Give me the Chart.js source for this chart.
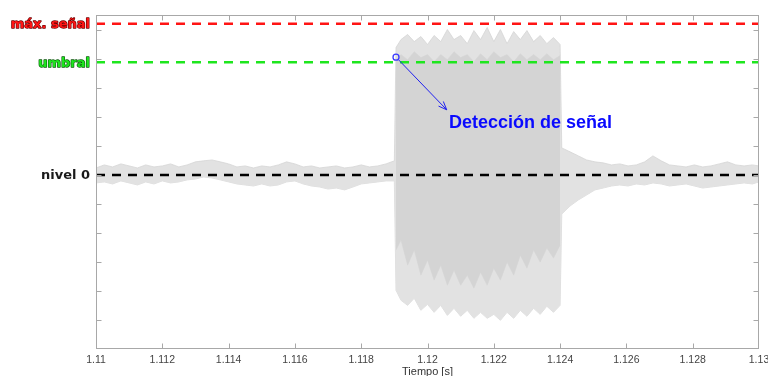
<!DOCTYPE html>
<html><head><meta charset="utf-8">
<script src="https://cdn.jsdelivr.net/npm/chart.js@4.4.1/dist/chart.umd.min.js"></script>
<style>html,body{margin:0;padding:0;background:#fff}#wrap{width:768px;height:376px;position:relative}</style>
</head><body><div id="wrap"><canvas id="c"></canvas></div>
<script>
// ---- axis ticks ----
const xTickValues = [1.110,1.112,1.114,1.116,1.118,1.120,1.122,1.124,1.126,1.128,1.130];
const xTickLabels = ['1.11','1.112','1.114','1.116','1.118','1.12','1.122','1.124','1.126','1.128','1.13'];
const yTickValues = [-1.0,-0.8,-0.6,-0.4,-0.2,0,0.2,0.4,0.6,0.8,1.0];

// ---- signal envelope (time [s], amplitude) ----
const tSignal = [
 1.11000,1.11025,1.11050,1.11075,1.11100,1.11125,1.11150,1.11175,1.11200,1.11225,1.11250,1.11275,
 1.11300,1.11325,1.11350,1.11375,1.11400,1.11425,1.11450,1.11475,1.11500,1.11525,1.11550,1.11575,
 1.11600,1.11625,1.11650,1.11675,1.11700,1.11725,1.11750,1.11775,1.11800,1.11825,1.11850,1.11875,1.11900,
 1.11905,1.11920,1.11940,1.11960,1.11980,1.12000,1.12020,1.12040,1.12060,1.12080,1.12100,1.12120,1.12140,
 1.12160,1.12180,1.12200,1.12220,1.12240,1.12260,1.12280,1.12300,1.12320,1.12340,1.12360,1.12380,1.12400,
 1.12405,1.12430,1.12455,1.12480,1.12505,1.12530,1.12555,1.12580,1.12605,1.12630,1.12655,1.12680,1.12705,
 1.12730,1.12755,1.12780,1.12805,1.12830,1.12855,1.12880,1.12905,1.12930,1.12955,1.12980,1.13000];
const sigUpper = [
 0.048,0.069,0.055,0.076,0.062,0.048,0.069,0.055,0.062,0.076,0.055,0.069,
 0.090,0.097,0.103,0.090,0.076,0.055,0.062,0.048,0.062,0.055,0.069,0.090,
 0.076,0.055,0.062,0.048,0.055,0.062,0.048,0.055,0.069,0.055,0.062,0.076,0.097,
 0.876,0.931,0.966,0.917,0.952,0.897,0.959,0.917,1.000,0.931,0.959,0.903,0.993,
 0.931,1.014,0.917,1.000,0.903,0.986,0.931,0.993,0.917,0.959,0.903,0.945,0.897,
 0.186,0.159,0.131,0.103,0.090,0.083,0.069,0.076,0.062,0.069,0.090,0.131,0.097,
 0.069,0.062,0.055,0.069,0.055,0.062,0.076,0.090,0.069,0.062,0.069,0.062];
const sigLower = [
 -0.055,-0.048,-0.062,-0.041,-0.055,-0.069,-0.048,-0.062,-0.041,-0.055,-0.048,-0.034,
 -0.028,-0.014,-0.021,-0.034,-0.048,-0.062,-0.069,-0.076,-0.062,-0.076,-0.069,-0.048,
 -0.041,-0.062,-0.076,-0.083,-0.097,-0.090,-0.103,-0.083,-0.062,-0.055,-0.048,-0.041,-0.041,
 -0.793,-0.862,-0.897,-0.848,-0.931,-0.890,-0.945,-0.897,-0.966,-0.917,-0.972,-0.931,-0.986,
 -0.945,-0.986,-0.959,-1.000,-0.945,-0.986,-0.931,-0.972,-0.917,-0.959,-0.903,-0.945,-0.897,
 -0.269,-0.214,-0.172,-0.138,-0.103,-0.090,-0.076,-0.069,-0.076,-0.062,-0.069,-0.055,-0.062,
 -0.076,-0.069,-0.062,-0.076,-0.090,-0.083,-0.076,-0.069,-0.062,-0.055,-0.062,-0.048];

// ---- denser core of the burst ----
const tBurst = [1.11905,1.11920,1.11940,1.11960,1.11980,1.12000,1.12020,1.12040,1.12060,1.12080,1.12100,1.12120,1.12140,
 1.12160,1.12180,1.12200,1.12220,1.12240,1.12260,1.12280,1.12300,1.12320,1.12340,1.12360,1.12380,1.12400];
const coreUpper = [0.793,0.828,0.793,0.848,0.807,0.828,0.779,0.828,0.793,0.848,0.807,0.828,0.779,
 0.834,0.793,0.848,0.807,0.828,0.779,0.834,0.793,0.828,0.793,0.834,0.793,0.821];
const coreLower = [-0.517,-0.448,-0.621,-0.517,-0.690,-0.586,-0.724,-0.621,-0.759,-0.655,-0.759,-0.690,-0.779,
 -0.669,-0.759,-0.641,-0.724,-0.600,-0.690,-0.552,-0.641,-0.517,-0.600,-0.503,-0.572,-0.483];

// ---- reference levels ----
const levelNames  = ['máx. señal','umbral','nivel 0'];
const levelValues = [1.04, 0.775, 0];
const levelColors = ['#ff1414','#1ee61e','#000000'];
const levelStroke = ['#6a0000','#0b5a0b',null];

// ---- detection annotation ----
const detectT = 1.11905, detectV = 0.81;
const arrowEndT = 1.12058, arrowEndV = 0.448;
const noteT = 1.12065, noteV = 0.355;
const noteText = 'Detección de señal';
const xTitle = 'Tiempo [s]';

const pts = (ts, vs) => ts.map((t,i)=>({x:t,y:vs[i]}));

const datasets = [
  {data:pts(tSignal,sigUpper), fill:'+1', backgroundColor:'#e2e2e2', borderColor:'#d6d6d6', borderWidth:0.8, pointRadius:0, order:10, tension:0},
  {data:pts(tSignal,sigLower), fill:false, borderColor:'#d6d6d6', borderWidth:0.8, pointRadius:0, order:10, tension:0},
  {data:pts(tBurst,coreUpper), fill:'+1', backgroundColor:'#d4d4d4', borderColor:'#d4d4d4', borderWidth:0.5, pointRadius:0, order:9},
  {data:pts(tBurst,coreLower), fill:false, borderColor:'#d4d4d4', borderWidth:0.5, pointRadius:0, order:9}
];
levelValues.forEach((v,i)=>{
  datasets.push({data:[{x:1.11,y:v},{x:1.13,y:v}], borderColor:levelColors[i], borderWidth:2.6, borderDash:[9,7], pointRadius:0, fill:false, order:2});
});
datasets.push({data:[{x:detectT,y:detectV}], showLine:false, pointRadius:3, pointBorderWidth:1.3,
  pointBorderColor:'#3a3aff', pointBackgroundColor:'rgba(0,0,0,0)', order:1});

const decor = {
  id:'decor',
  afterDraw(chart){
    const {ctx, chartArea:a, scales:{x,y}} = chart;
    ctx.save();
    // frame
    ctx.strokeStyle = '#a8a8a8'; ctx.lineWidth = 1;
    const L=Math.round(a.left)+0.5, R=Math.round(a.right)-0.5, T=Math.round(a.top)+0.5, B=Math.round(a.bottom)-0.5;
    ctx.strokeRect(L,T,R-L,B-T);
    ctx.beginPath();
    xTickValues.forEach(v=>{
      const px = Math.round(x.getPixelForValue(v))+0.5;
      if (px<=L+1 || px>=R-1) return;
      ctx.moveTo(px,B); ctx.lineTo(px,B-5);
      ctx.moveTo(px,T); ctx.lineTo(px,T+5);
    });
    yTickValues.forEach(v=>{
      const py = Math.round(y.getPixelForValue(v))+0.5;
      if (py<=T+1 || py>=B-1) return;
      ctx.moveTo(L,py); ctx.lineTo(L+5,py);
      ctx.moveTo(R,py); ctx.lineTo(R-5,py);
    });
    ctx.stroke();
    // level labels
    ctx.font = 'bold 13px "DejaVu Sans"';
    ctx.textAlign = 'right'; ctx.textBaseline = 'middle'; ctx.lineJoin = 'round';
    levelNames.forEach((n,i)=>{
      const py = y.getPixelForValue(levelValues[i]) + 1;
      if (levelStroke[i]) { ctx.strokeStyle = levelStroke[i]; ctx.lineWidth = 1.3; ctx.strokeText(n, 90, py); }
      ctx.fillStyle = i===2 ? '#1a1a1a' : levelColors[i];
      ctx.fillText(n, 90, py);
    });
    // arrow
    const x0 = x.getPixelForValue(detectT), y0 = y.getPixelForValue(detectV);
    const x1 = x.getPixelForValue(arrowEndT), y1 = y.getPixelForValue(arrowEndV);
    const ang = Math.atan2(y1-y0, x1-x0);
    ctx.strokeStyle = '#2020f0'; ctx.lineWidth = 1;
    ctx.beginPath();
    ctx.moveTo(x0+4*Math.cos(ang), y0+4*Math.sin(ang));
    ctx.lineTo(x1,y1);
    ctx.moveTo(x1 - 9*Math.cos(ang-0.38), y1 - 9*Math.sin(ang-0.38));
    ctx.lineTo(x1,y1);
    ctx.lineTo(x1 - 9*Math.cos(ang+0.38), y1 - 9*Math.sin(ang+0.38));
    ctx.stroke();
    ctx.font = 'bold 18px "Liberation Sans"';
    ctx.fillStyle = '#0a0aff'; ctx.textAlign = 'left'; ctx.textBaseline = 'middle';
    ctx.fillText(noteText, x.getPixelForValue(noteT), y.getPixelForValue(noteV));
    // x title
    ctx.font = '11px "Liberation Sans"'; ctx.fillStyle = '#333';
    ctx.textAlign = 'center'; ctx.textBaseline = 'top';
    ctx.fillText(xTitle, (a.left+a.right)/2, 366);
    ctx.restore();
  }
};

new Chart(document.getElementById('c'), {
  type:'line',
  data:{datasets},
  options:{
    responsive:true, maintainAspectRatio:false, animation:false, devicePixelRatio:1,
    layout:{padding:{left:96, right:9, top:15, bottom:6}},
    plugins:{legend:{display:false}, tooltip:{enabled:false}},
    elements:{line:{tension:0}},
    scales:{
      x:{type:'linear', min:1.11, max:1.13,
        afterBuildTicks:s=>{ s.ticks = xTickValues.map(v=>({value:v})); },
        afterFit:s=>{ s.paddingLeft = 0; s.paddingRight = 0; },
        ticks:{autoSkip:false, maxRotation:0, padding:4, color:'#444', font:{family:'Liberation Sans', size:10.5},
          callback:(v,i)=>xTickLabels[i]},
        grid:{display:false, drawTicks:false}, border:{display:false}},
      y:{type:'linear', display:false, min:-1.2, max:1.1}
    }
  },
  plugins:[decor]
});
</script></body></html>
